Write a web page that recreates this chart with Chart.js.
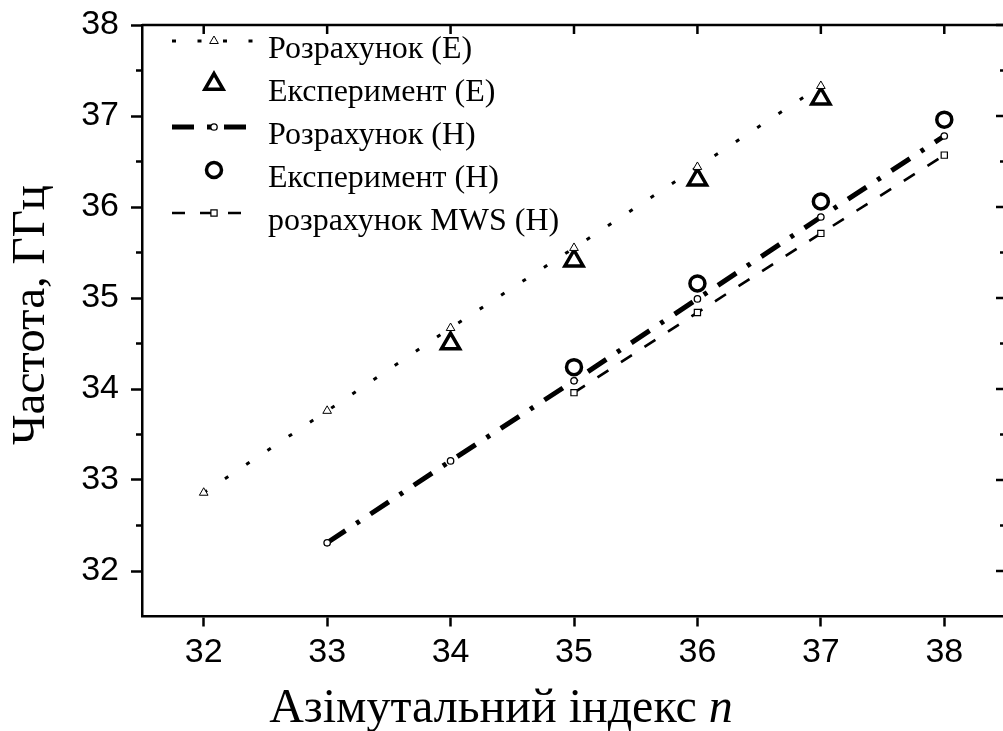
<!DOCTYPE html>
<html>
<head>
<meta charset="utf-8">
<script src="https://cdn.jsdelivr.net/npm/chart.js@4.4.1/dist/chart.umd.min.js"></script>
<style>
  html, body { margin: 0; padding: 0; background: #fff; overflow: hidden; }
  canvas { display: block; }
</style>
</head>
<body>
<canvas id="c" width="1006" height="731"></canvas>
<script>
// Azimuthal index values for each series
const calcE_n = [32, 33, 34, 35, 36, 37];
const expE_n  = [34, 35, 36, 37];
const calcH_n = [33, 34, 35, 36, 37, 38];
const expH_n  = [35, 36, 37, 38];
const mwsH_n  = [35, 36, 37, 38];

// Frequencies, GHz
const calcE = [32.86, 33.76, 34.67, 35.55, 36.44, 37.33];
const expE  = [34.50, 35.41, 36.30, 37.19];
const calcH = [32.31, 33.21, 34.09, 34.99, 35.89, 36.78];
const expH  = [34.24, 35.16, 36.06, 36.96];
const mwsH  = [33.96, 34.84, 35.71, 36.57];

const seriesLabels = [
  'Розрахунок (E)',
  'Експеримент (E)',
  'Розрахунок (H)',
  'Експеримент (H)',
  'розрахунок MWS (H)'
];

const xTicks = [32, 33, 34, 35, 36, 37, 38];
const yTicks = [32, 33, 34, 35, 36, 37, 38];
const yMinorTicks = [32.5, 33.5, 34.5, 35.5, 36.5, 37.5];

const xTitle = 'Азімутальний індекс ';
const xTitleVar = 'n';
const yTitle = 'Частота, ГГц';

const toPoints = (xs, ys) => xs.map((v, i) => ({ x: v, y: ys[i] }));

const SERIF = '"Liberation Serif", "Times New Roman", serif';
const SANS = '"Liberation Sans", Arial, sans-serif';

const datasets = [
  {
    label: seriesLabels[0], data: toPoints(calcE_n, calcE), showLine: true,
    borderColor: '#000', borderWidth: 3, borderDash: [4, 21.5],
    pointStyle: 'triangle', pointRadius: 5, pointBorderWidth: 1,
    pointBorderColor: '#000', pointBackgroundColor: '#fff'
  },
  {
    label: seriesLabels[1], data: toPoints(expE_n, expE), showLine: false,
    pointStyle: 'triangle', pointRadius: 10.5, pointBorderWidth: 3.5,
    pointBorderColor: '#000', pointBackgroundColor: 'rgba(255,255,255,0)'
  },
  {
    label: seriesLabels[2], data: toPoints(calcH_n, calcH), showLine: true,
    borderColor: '#000', borderWidth: 5, borderDash: [22, 13, 4, 13],
    pointStyle: 'circle', pointRadius: 3.2, pointBorderWidth: 1.3,
    pointBorderColor: '#000', pointBackgroundColor: '#fff'
  },
  {
    label: seriesLabels[3], data: toPoints(expH_n, expH), showLine: false,
    pointStyle: 'circle', pointRadius: 7.5, pointBorderWidth: 3.5,
    pointBorderColor: '#000', pointBackgroundColor: 'rgba(255,255,255,0)'
  },
  {
    label: seriesLabels[4], data: toPoints(mwsH_n, mwsH), showLine: true,
    borderColor: '#000', borderWidth: 2.6, borderDash: [13, 15],
    pointStyle: 'rect', pointRadius: 4.4, pointBorderWidth: 1.2,
    pointBorderColor: '#000', pointBackgroundColor: '#fff'
  }
];

// Closes the box (top and right sides) and adds the mirrored / minor ticks
const framePlugin = {
  id: 'frame',
  afterDatasetsDraw(chart) {
    const { ctx, chartArea: a, scales: { x, y } } = chart;
    ctx.save();
    ctx.strokeStyle = '#000';
    ctx.lineWidth = 2.5;
    ctx.beginPath();
    ctx.moveTo(a.left, a.top);
    ctx.lineTo(a.right, a.top);
    ctx.lineTo(a.right, a.bottom);
    ctx.stroke();

    ctx.beginPath();
    xTicks.forEach(v => {
      const px = x.getPixelForValue(v);
      ctx.moveTo(px, a.top);
      ctx.lineTo(px, a.top + 9);
    });
    yTicks.forEach(v => {
      const py = y.getPixelForValue(v);
      ctx.moveTo(a.right, py);
      ctx.lineTo(a.right - 10, py);
    });
    yMinorTicks.forEach(v => {
      const py = y.getPixelForValue(v);
      ctx.moveTo(a.right, py);
      ctx.lineTo(a.right - 6, py);
      ctx.moveTo(a.left, py);
      ctx.lineTo(a.left - 6, py);
    });
    ctx.stroke();
    ctx.restore();
  }
};

// Legend drawn inside the plot, top-left, from the dataset styles
const legendPlugin = {
  id: 'innerLegend',
  afterDraw(chart) {
    const { ctx } = chart;
    const x0 = 172, x1 = 256, xm = 214, textX = 268;
    const rowY0 = 41, rowStep = 43;
    ctx.save();
    chart.data.datasets.forEach((ds, i) => {
      const yRow = rowY0 + i * rowStep;
      if (ds.showLine) {
        ctx.save();
        ctx.strokeStyle = ds.borderColor;
        ctx.lineWidth = ds.borderWidth;
        ctx.setLineDash(ds.borderDash || []);
        ctx.beginPath();
        ctx.moveTo(x0, yRow);
        ctx.lineTo(x1, yRow);
        ctx.stroke();
        ctx.restore();
      }
      ctx.save();
      ctx.strokeStyle = ds.pointBorderColor;
      ctx.fillStyle = ds.pointBackgroundColor;
      ctx.lineWidth = ds.pointBorderWidth;
      ctx.setLineDash([]);
      Chart.helpers.drawPoint(ctx, { pointStyle: ds.pointStyle, radius: ds.pointRadius, rotation: 0, borderWidth: ds.pointBorderWidth }, xm, yRow);
      ctx.restore();

      ctx.fillStyle = '#000';
      ctx.font = '32px ' + SERIF;
      ctx.textAlign = 'left';
      ctx.textBaseline = 'alphabetic';
      ctx.fillText(ds.label, textX, yRow + 17);
    });
    ctx.restore();
  }
};

// Axis titles (the x title has an italic variable name)
const titlesPlugin = {
  id: 'axisTitles',
  afterDraw(chart) {
    const { ctx } = chart;
    ctx.save();
    ctx.fillStyle = '#000';
    ctx.textBaseline = 'alphabetic';

    const fReg = '48px ' + SERIF;
    const fIt = 'italic 48px ' + SERIF;
    ctx.font = fReg;
    const w1 = ctx.measureText(xTitle).width;
    ctx.font = fIt;
    const w2 = ctx.measureText(xTitleVar).width;
    const start = 501 - (w1 + w2) / 2;
    ctx.textAlign = 'left';
    ctx.font = fReg;
    ctx.fillText(xTitle, start, 722);
    ctx.font = fIt;
    ctx.fillText(xTitleVar, start + w1, 722);

    ctx.translate(44, 315);
    ctx.rotate(-Math.PI / 2);
    ctx.font = '47px ' + SERIF;
    ctx.textAlign = 'center';
    ctx.fillText(yTitle, 0, 0);
    ctx.restore();
  }
};

// Fixed axis band sizes with no extra room reserved for edge labels
const fixBand = (size, vertical) => s => {
  if (vertical) s.width = size; else s.height = size;
  s.paddingTop = 0; s.paddingBottom = 0; s.paddingLeft = 0; s.paddingRight = 0;
};

new Chart(document.getElementById('c'), {
  type: 'scatter',
  data: { datasets },
  options: {
    responsive: false,
    animation: false,
    layout: { autoPadding: false, padding: { top: 25, right: 0, left: 0, bottom: 0 } },
    plugins: { legend: { display: false }, tooltip: { enabled: false } },
    elements: { line: { tension: 0, fill: false } },
    scales: {
      x: {
        type: 'linear', min: 31.5, max: 38.5,
        afterBuildTicks: s => { s.ticks = xTicks.map(v => ({ value: v })); },
        afterFit: fixBand(114.5, false),
        ticks: { color: '#000', font: { family: SANS, size: 34 }, padding: 6, maxRotation: 0 },
        grid: { drawOnChartArea: false, drawTicks: true, tickLength: 10, tickWidth: 2.5, tickColor: '#000' },
        border: { display: true, color: '#000', width: 2.5 }
      },
      y: {
        type: 'linear', min: 31.5, max: 38,
        afterBuildTicks: s => { s.ticks = yTicks.map(v => ({ value: v })); },
        afterFit: fixBand(142, true),
        ticks: { color: '#000', font: { family: SANS, size: 34 }, padding: 12 },
        grid: { drawOnChartArea: false, drawTicks: true, tickLength: 11, tickWidth: 2.5, tickColor: '#000' },
        border: { display: true, color: '#000', width: 2.5 }
      }
    }
  },
  plugins: [framePlugin, legendPlugin, titlesPlugin]
});
</script>
</body>
</html>
